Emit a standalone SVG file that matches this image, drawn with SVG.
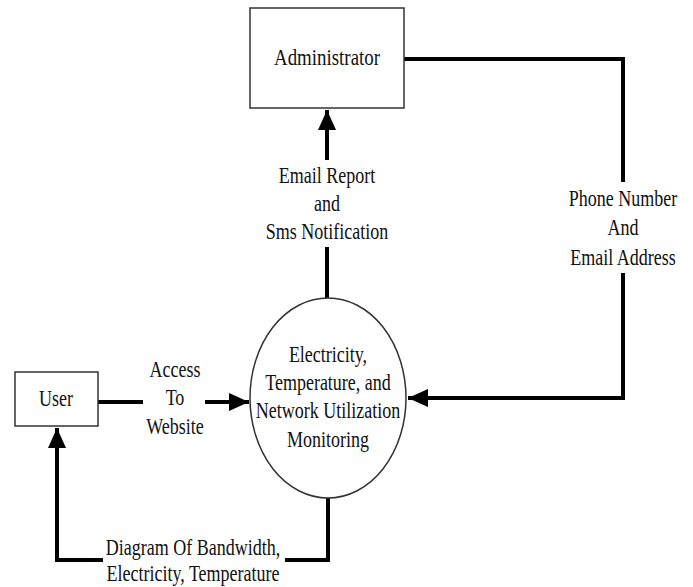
<svg xmlns="http://www.w3.org/2000/svg" width="693" height="587" viewBox="0 0 693 587">
<defs>
<marker id="ah" markerWidth="5" markerHeight="4.5" refX="5" refY="2.25" orient="auto" markerUnits="strokeWidth">
<path d="M0,0 L5,2.25 L0,4.5 Z" fill="#000"/>
</marker>
<style>
.box{fill:#fff;stroke:#333;stroke-width:1.5}
.t{font-family:"Liberation Serif","Times New Roman",serif;font-size:18px;fill:#111;text-anchor:middle}
.c{fill:none;stroke:#000;stroke-width:4}
</style>
</defs>
<rect width="693" height="587" fill="#fff"/>
<g id="connectors">
<line class="c" x1="327" y1="160" x2="327" y2="110" marker-end="url(#ah)"/>
<line class="c" x1="327" y1="247" x2="327" y2="298"/>
<line class="c" x1="98" y1="402" x2="143" y2="402"/>
<line class="c" x1="205" y1="402" x2="249" y2="402" marker-end="url(#ah)"/>
<polyline class="c" points="404,59 623,59 623,182"/>
<polyline class="c" points="623,273 623,398 408,398" marker-end="url(#ah)"/>
<polyline class="c" points="328,498 328,560 285,560"/>
<polyline class="c" points="103,560 57,560 57,428" marker-end="url(#ah)"/>
<text class="t" transform="translate(327,183) scale(1,1.28)">Email Report</text>
<text class="t" transform="translate(327,211) scale(1,1.28)">and</text>
<text class="t" transform="translate(327,239) scale(1,1.28)">Sms Notification</text>
<text class="t" transform="translate(175,377) scale(1,1.28)">Access</text>
<text class="t" transform="translate(175,405) scale(1,1.28)">To</text>
<text class="t" transform="translate(175,434) scale(1,1.28)">Website</text>
<text class="t" transform="translate(623,206) scale(1,1.28)">Phone Number</text>
<text class="t" transform="translate(623,235) scale(1,1.28)">And</text>
<text class="t" transform="translate(623,265) scale(1,1.28)">Email Address</text>
<text class="t" transform="translate(193,555) scale(1,1.28)">Diagram Of Bandwidth,</text>
<text class="t" transform="translate(193,581) scale(1,1.28)">Electricity, Temperature</text>
</g>
<g id="administrator">
<rect class="box" x="250" y="8" width="154" height="100"/>
<text class="t" transform="translate(327,65) scale(1.05,1.28)">Administrator</text>
</g>
<g id="user">
<rect class="box" x="15" y="372" width="83" height="54"/>
<text class="t" transform="translate(56,406) scale(1,1.28)">User</text>
</g>
<g id="monitoring">
<ellipse class="box" cx="328" cy="398" rx="78" ry="100"/>
<text class="t" transform="translate(328,362) scale(1,1.28)">Electricity,</text>
<text class="t" transform="translate(328,390) scale(1,1.28)">Temperature, and</text>
<text class="t" transform="translate(328,418) scale(1,1.28)">Network Utilization</text>
<text class="t" transform="translate(328,447) scale(1,1.28)">Monitoring</text>
</g>
</svg>
